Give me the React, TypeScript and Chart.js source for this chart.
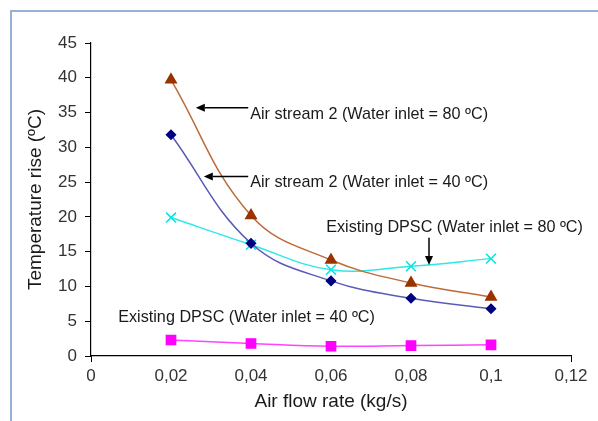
import React, { useEffect, useRef } from "react";
import { Chart, registerables } from "chart.js";

Chart.register(...registerables);

const airFlow = [0.02, 0.04, 0.06, 0.08, 0.1];
const airStream80 = [39.7, 20.2, 13.8, 10.5, 8.5];
const airStream40 = [31.8, 16.2, 10.8, 8.3, 6.8];
const existing80 = [19.9, 16.0, 12.4, 12.9, 14.0];
const existing40 = [2.3, 1.8, 1.4, 1.5, 1.6];

const xTickLabels = ["0", "0,02", "0,04", "0,06", "0,08", "0,1", "0,12"];
const yTickLabels = ["0", "5", "10", "15", "20", "25", "30", "35", "40", "45"];

// annotation texts and arrows in data units
const notes = [
  { text: "Air stream 2 (Water inlet = 80 ºC)", x: 0.0398, y: 34.7 },
  { text: "Air stream 2 (Water inlet = 40 ºC)", x: 0.0398, y: 24.9 },
  { text: "Existing DPSC (Water inlet = 80 ºC)", x: 0.0588, y: 18.4 },
  { text: "Existing DPSC (Water inlet = 40 ºC)", x: 0.0068, y: 5.55 },
];
const arrows = [
  { x1: 0.0393, y1: 35.7, x2: 0.0262, y2: 35.7 },
  { x1: 0.0393, y1: 25.8, x2: 0.0282, y2: 25.8 },
  { x1: 0.0845, y1: 17.0, x2: 0.0845, y2: 13.1 },
];

const FONT = "'Liberation Sans', Arial, sans-serif";

const decorPlugin = {
  id: "decor",
  beforeDraw(chart: any) {
    const ctx = chart.ctx;
    ctx.save();
    ctx.fillStyle = "#ffffff";
    ctx.fillRect(0, 0, chart.width, chart.height);
    ctx.strokeStyle = "#95b3d7";
    ctx.lineWidth = 2;
    ctx.strokeRect(11, 11, chart.width + 20, chart.height + 20);
    ctx.restore();
  },
  afterDatasetsDraw(chart: any) {
    const ctx = chart.ctx;
    const xs = chart.scales.x;
    const ys = chart.scales.y;
    ctx.save();
    ctx.fillStyle = "#1a1a1a";
    ctx.font = `16.2px ${FONT}`;
    ctx.textBaseline = "middle";
    ctx.textAlign = "left";
    for (const n of notes) {
      ctx.fillText(n.text, xs.getPixelForValue(n.x), ys.getPixelForValue(n.y));
    }
    ctx.strokeStyle = "#000";
    ctx.fillStyle = "#000";
    ctx.lineWidth = 1.5;
    for (const a of arrows) {
      const x1 = xs.getPixelForValue(a.x1);
      const y1 = ys.getPixelForValue(a.y1);
      const x2 = xs.getPixelForValue(a.x2);
      const y2 = ys.getPixelForValue(a.y2);
      const ang = Math.atan2(y2 - y1, x2 - x1);
      const L = 9;
      const W = 4;
      const bx = x2 - L * Math.cos(ang);
      const by = y2 - L * Math.sin(ang);
      ctx.beginPath();
      ctx.moveTo(x1, y1);
      ctx.lineTo(bx, by);
      ctx.stroke();
      ctx.beginPath();
      ctx.moveTo(x2, y2);
      ctx.lineTo(bx - W * Math.sin(ang), by + W * Math.cos(ang));
      ctx.lineTo(bx + W * Math.sin(ang), by - W * Math.cos(ang));
      ctx.closePath();
      ctx.fill();
    }
    ctx.restore();
  },
};

export default function App() {
  const ref = useRef<HTMLCanvasElement | null>(null);
  useEffect(() => {
    if (!ref.current) return;
    const mk = (vals: number[]) => airFlow.map((x, i) => ({ x, y: vals[i] }));
    const chart = new Chart(ref.current, {
      type: "line",
      data: {
        datasets: [
          {
            label: "Air stream 2 (Water inlet = 80 ºC)",
            data: mk(airStream80),
            borderColor: "#bf6a3a",
            backgroundColor: "#993300",
            pointBorderColor: "#993300",
            pointStyle: "triangle",
            pointRadius: 6,
            borderWidth: 1.5,
            tension: 0.4,
          },
          {
            label: "Air stream 2 (Water inlet = 40 ºC)",
            data: mk(airStream40),
            borderColor: "#5a5ab8",
            backgroundColor: "#000080",
            pointBorderColor: "#000080",
            pointStyle: "rectRot",
            pointRadius: 4.5,
            borderWidth: 1.5,
            tension: 0.4,
          },
          {
            label: "Existing DPSC (Water inlet = 80 ºC)",
            data: mk(existing80),
            borderColor: "#2ee8e8",
            backgroundColor: "#00ffff",
            pointBorderColor: "#00e5e5",
            pointStyle: "crossRot",
            pointRadius: 7,
            pointBorderWidth: 1.5,
            borderWidth: 1.5,
            tension: 0.4,
          },
          {
            label: "Existing DPSC (Water inlet = 40 ºC)",
            data: mk(existing40),
            borderColor: "#ff44ff",
            backgroundColor: "#ff00ff",
            pointBorderColor: "#ff00ff",
            pointStyle: "rect",
            pointRadius: 6.5,
            borderWidth: 1.5,
            tension: 0.4,
          },
        ],
      },
      options: {
        animation: false,
        responsive: false,
        maintainAspectRatio: false,
        layout: { padding: { left: 0, top: 43, right: 27, bottom: 0 } },
        plugins: { legend: { display: false }, tooltip: { enabled: false } },
        scales: {
          x: {
            type: "linear",
            min: 0,
            max: 0.12,
            afterBuildTicks: (s: any) => {
              s.ticks = xTickLabels.map((_, i) => ({ value: i * 0.02 }));
            },
            afterFit: (s: any) => {
              s.height = 65;
            },
            ticks: {
              callback: (_v: any, i: number) => xTickLabels[i],
              color: "#333",
              font: { family: FONT, size: 17 },
              padding: 4,
              maxRotation: 0,
              autoSkip: false,
            },
            grid: {
              drawOnChartArea: false,
              drawTicks: true,
              tickLength: 6,
              color: (c: any) => (c.index === 0 || c.index === 6 ? "#000" : "rgba(0,0,0,0)"),
            },
            border: { color: "#000", width: 1.2 },
            title: {
              display: true,
              text: "Air flow rate (kg/s)",
              color: "#1a1a1a",
              font: { family: FONT, size: 19 },
              padding: 8,
            },
          },
          y: {
            type: "linear",
            min: 0,
            max: 45,
            afterBuildTicks: (s: any) => {
              s.ticks = yTickLabels.map((t) => ({ value: Number(t) }));
            },
            afterFit: (s: any) => {
              s.width = 91;
            },
            ticks: {
              callback: (_v: any, i: number) => yTickLabels[i],
              color: "#333",
              font: { family: FONT, size: 17 },
              padding: 8,
              autoSkip: false,
            },
            grid: {
              drawOnChartArea: false,
              drawTicks: true,
              tickLength: 6,
              color: "#000",
            },
            border: { color: "#000", width: 1.2 },
            title: {
              display: true,
              text: "Temperature rise (ºC)",
              color: "#1a1a1a",
              font: { family: FONT, size: 19 },
              padding: 24,
            },
          },
        },
      },
      plugins: [decorPlugin],
    });
    return () => chart.destroy();
  }, []);
  return (
    <div style={{ position: "fixed", left: 0, top: 0, width: 598, height: 421 }}>
      <canvas ref={ref} width={598} height={421} style={{ display: "block" }} />
    </div>
  );
}
